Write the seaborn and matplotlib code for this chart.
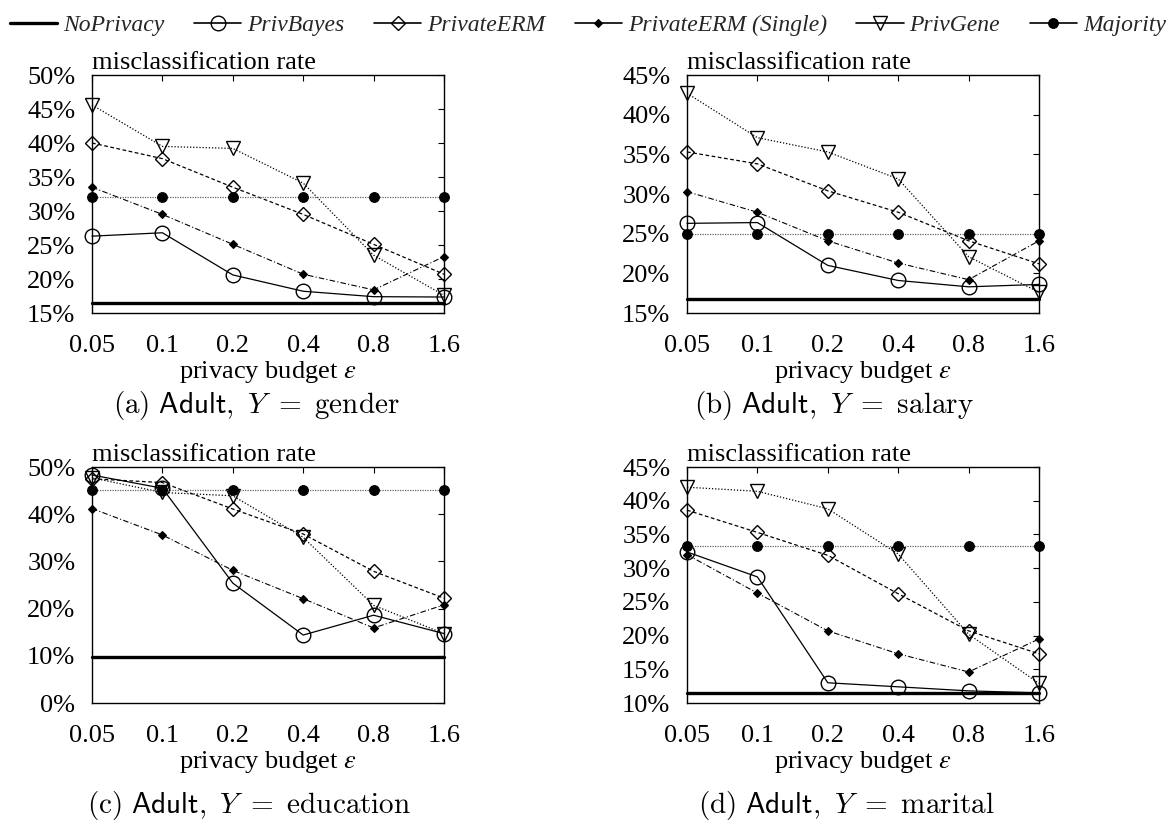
import matplotlib
matplotlib.use("Agg")
import matplotlib.pyplot as plt
import seaborn as sns
import numpy as np
from matplotlib.ticker import FixedLocator, FuncFormatter
from matplotlib.lines import Line2D

sns.set_theme(style="white")
plt.rcParams['font.family'] = ['Liberation Serif', 'DejaVu Serif']
plt.rcParams['mathtext.fontset'] = 'stix'

eps_labels = ["0.05", "0.1", "0.2", "0.4", "0.8", "1.6"]
series_names = ["NoPrivacy", "PrivBayes", "PrivateERM", "PrivateERM (Single)", "PrivGene", "Majority"]

# (a) Adult, Y = gender
a_noprivacy = [16.4] * 6
a_privbayes = [26.3, 26.8, 20.6, 18.2, 17.4, 17.35]
a_privateerm = [40.0, 37.7, 33.5, 29.5, 25.1, 20.7]
a_single = [33.5, 29.5, 25.1, 20.7, 18.4, 23.3]
a_privgene = [45.6, 39.5, 39.2, 34.1, 23.5, 17.6]
a_majority = [32.0] * 6

# (b) Adult, Y = salary
b_noprivacy = [16.8] * 6
b_privbayes = [26.3, 26.4, 21.0, 19.1, 18.3, 18.6]
b_privateerm = [35.3, 33.8, 30.4, 27.7, 24.1, 21.2]
b_single = [30.3, 27.7, 24.1, 21.3, 19.2, 24.1]
b_privgene = [42.7, 37.1, 35.3, 31.9, 22.1, 17.6]
b_majority = [25.0] * 6

# (c) Adult, Y = education
c_noprivacy = [9.7] * 6
c_privbayes = [48.3, 45.5, 25.4, 14.4, 18.6, 14.7]
c_privateerm = [47.5, 46.7, 41.1, 35.8, 27.9, 22.2]
c_single = [41.2, 35.6, 28.1, 22.1, 15.9, 20.8]
c_privgene = [47.7, 44.6, 43.9, 35.1, 20.7, 14.7]
c_majority = [45.1] * 6

# (d) Adult, Y = marital
d_noprivacy = [11.5] * 6
d_privbayes = [32.4, 28.7, 13.0, 12.4, 11.8, 11.5]
d_privateerm = [38.6, 35.3, 31.9, 26.2, 20.7, 17.3]
d_single = [32.0, 26.3, 20.7, 17.3, 14.6, 19.5]
d_privgene = [42.0, 41.4, 38.8, 32.1, 20.2, 12.9]
d_majority = [33.3] * 6

panels = [
    dict(data=[a_noprivacy, a_privbayes, a_privateerm, a_single, a_privgene, a_majority],
         yticks=[15, 20, 25, 30, 35, 40, 45, 50], target="gender", tag="(a)"),
    dict(data=[b_noprivacy, b_privbayes, b_privateerm, b_single, b_privgene, b_majority],
         yticks=[15, 20, 25, 30, 35, 40, 45], target="salary", tag="(b)"),
    dict(data=[c_noprivacy, c_privbayes, c_privateerm, c_single, c_privgene, c_majority],
         yticks=[0, 10, 20, 30, 40, 50], target="education", tag="(c)"),
    dict(data=[d_noprivacy, d_privbayes, d_privateerm, d_single, d_privgene, d_majority],
         yticks=[10, 15, 20, 25, 30, 35, 40, 45], target="marital", tag="(d)"),
]

styles = [
    dict(color="black", linestyle="-", linewidth=2.4, marker=None),
    dict(color="black", linestyle="-", linewidth=0.9, marker="o", markersize=10.5,
         markerfacecolor="none", markeredgecolor="black", markeredgewidth=1.0),
    dict(color="black", linestyle=(0, (3, 2)), linewidth=0.9, marker="D", markersize=7.5,
         markerfacecolor="none", markeredgecolor="black", markeredgewidth=1.0),
    dict(color="black", linestyle=(0, (5, 2, 1, 2)), linewidth=0.8, marker="D", markersize=4.5,
         markerfacecolor="black", markeredgecolor="black", markeredgewidth=0.8),
    dict(color="black", linestyle=(0, (1, 1.5)), linewidth=0.9, marker="v", markersize=10,
         markerfacecolor="none", markeredgecolor="black", markeredgewidth=1.0),
    dict(color="#666666", linestyle=(0, (1, 1)), linewidth=0.9, marker="o", markersize=7,
         markerfacecolor="black", markeredgecolor="black", markeredgewidth=0.8),
]

fig = plt.figure(figsize=(11.76, 8.22), dpi=100)
W, H = 1176.0, 822.0
boxes = [(92, 75, 444, 313), (687, 75, 1039, 313), (92, 467, 444, 703), (687, 467, 1039, 703)]
cap_x = [256, 834, 249, 846]
cap_y = [405, 405, 805, 805]

pos = np.arange(len(eps_labels))
fs = 19
for i, (p, b) in enumerate(zip(panels, boxes)):
    x0, y0, x1, y1 = b
    ax = fig.add_axes([x0 / W, 1 - y1 / H, (x1 - x0) / W, (y1 - y0) / H])
    for vals, st in zip(p["data"], styles):
        sns.lineplot(x=pos, y=vals, ax=ax, clip_on=False, **st)
    ax.set_xlim(0, 5)
    ax.set_ylim(p["yticks"][0], p["yticks"][-1])
    ax.set_xticks(pos)
    ax.set_xticklabels(eps_labels)
    ax.yaxis.set_major_locator(FixedLocator(p["yticks"]))
    ax.yaxis.set_major_formatter(FuncFormatter(lambda v, _: f"{v:.0f}%"))
    ax.tick_params(direction="in", length=4, width=0.8, top=True, right=True,
                   labelsize=fs, colors="black")
    ax.tick_params(axis="y", pad=12)
    ax.tick_params(axis="x", pad=16)
    for s in ax.spines.values():
        s.set_color("black")
        s.set_linewidth(1.0)
    ax.set_xlabel(r"privacy budget $\varepsilon$", fontsize=fs, labelpad=1, color="black")
    ax.set_ylabel("")
    ax.text(0, 1.005, "misclassification rate", transform=ax.transAxes, ha="left",
            va="bottom", fontsize=fs, color="black")
    fig.text(cap_x[i] / W, 1 - cap_y[i] / H,
             r"$\mathrm{" + p["tag"] + r"}\ \mathsf{Adult},\ Y\ =\ \mathrm{" + p["target"] + "}$",
             ha="center", va="center", fontsize=21, math_fontfamily="cm", color="black")

handles = []
for st in styles:
    kw = dict(st)
    kw["linestyle"] = "-"
    kw["color"] = "black"
    if kw.get("linewidth", 1) < 2:
        kw["linewidth"] = 1.2
    handles.append(Line2D([], [], **kw))
fig.legend(handles, series_names, loc="upper center", bbox_to_anchor=(0.5, 1.008), ncol=6,
           frameon=False, prop=dict(family="Liberation Serif", style="italic", size=17),
           handlelength=2.0, handletextpad=0.25, columnspacing=1.25)

fig.savefig("out.png", dpi=100)
